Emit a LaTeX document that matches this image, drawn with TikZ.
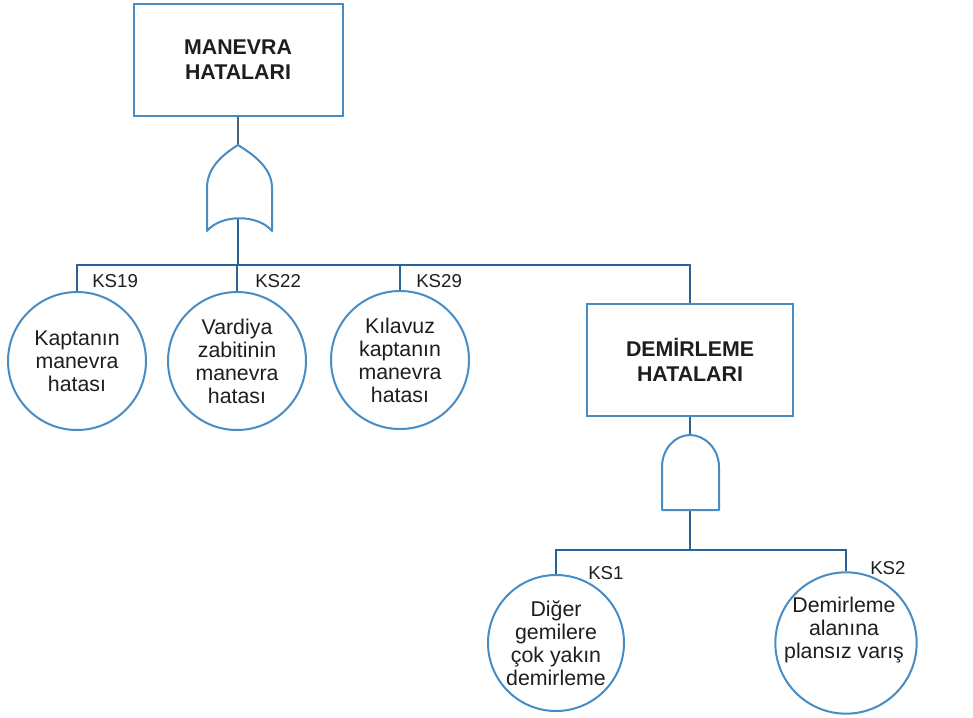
\documentclass[tikz,border=0pt]{standalone}
\usepackage{fontspec}
\setmainfont{Liberation Sans}
\definecolor{shapeblue}{RGB}{72,140,196}
\definecolor{wireblue}{RGB}{42,100,150}
\definecolor{linkgrey}{RGB}{78,98,118}
\definecolor{txt}{RGB}{30,30,30}
\begin{document}
\begin{tikzpicture}[x=0.75pt,y=-0.75pt,
  every node/.style={text=txt},
  eventbox/.style={draw=shapeblue, line width=1.5pt, fill=white, minimum width=156.75pt,
    minimum height=84pt, align=center, inner sep=0pt,
    font=\bfseries\fontsize{16}{18.75}\selectfont},
  basic/.style={draw=shapeblue, line width=1.5pt, fill=white, circle, minimum size=103.5pt,
    inner sep=0pt, align=center, font=\fontsize{16}{17.2}\selectfont},
  plaintext/.style={align=center, inner sep=0pt, font=\fontsize{16}{17.2}\selectfont},
  gate/.style={draw=shapeblue, line width=1.5pt, fill=white, line join=round},
  wire/.style={draw=wireblue, line width=2.2pt},
  link/.style={draw=linkgrey, line width=1.4pt},
  tag/.style={anchor=west, inner sep=0pt, font=\fontsize{14}{16}\selectfont}
]
\useasboundingbox (0,0) rectangle (973,717);
\fill[white] (0,0) rectangle (973,717);

% bus levels
\coordinate (bus) at (0,265);
\coordinate (bus2) at (0,550);

% top event
\node[eventbox] (manevra) at (238,60) {MANEVRA\\HATALARI};

% OR gate
\coordinate (orTop) at (238,145);
\coordinate (orBot) at (238,218);
\draw[link] (manevra.south) -- (orTop);
\draw[wire] (orBot) -- (orBot |- bus);
\draw[gate] (207,231) -- (207,188) .. controls (207,168) and (222,155) .. (orTop)
  .. controls (254,155) and (272,168) .. (272,188) -- (272,231)
  .. controls (258,214) and (221,214) .. cycle;

% basic events under the OR gate
\node[basic] (ks19) at (77,361) {Kaptanın\\manevra\\hatası};
\node[basic] (ks22) at (237,361) {Vardiya\\zabitinin\\manevra\\hatası};
\node[basic] (ks29) at (400,360) {Kılavuz\\kaptanın\\manevra\\hatası};

% intermediate event
\node[eventbox, minimum width=154.5pt] (dem) at (690,359.5) {DEMİRLEME\\HATALARI};

\draw[wire] (ks19.north) |- (dem.north |- bus) -- (dem.north);
\draw[wire] (ks22.north) -- (ks22.north |- bus);
\draw[wire] (ks29.north) -- (ks29.north |- bus);

\node[tag] (t19) at (92,281) {KS19};
\node[tag] (t22) at (255,281) {KS22};
\node[tag] (t29) at (416,281) {KS29};

% AND gate
\coordinate (andTop) at (690,435);
\coordinate (andBot) at (690,510);
\draw[wire, line width=1.8pt] (dem.south) -- (andTop);
\draw[wire] (andBot) -- (andBot |- bus2);
\draw[gate] (662,510) -- (662,467) .. controls (662,449) and (675,435) .. (andTop)
  .. controls (705,435) and (719,449) .. (719,467) -- (719,510) -- cycle;

% basic events under the AND gate
\node[basic, minimum size=102pt] (ks1) at (556,643) {Diğer\\gemilere\\çok yakın\\demirleme};
\node[basic, minimum size=106pt] (ks2) at (846,643) {};
\node[plaintext] (ks2text) at (844,630) {Demirleme\\alanına\\plansız varış};

\draw[wire] (ks1.north) |- (ks2.north |- bus2) -- (ks2.north);

\node[tag] (t1) at (588,573) {KS1};
\node[tag] (t2) at (870,568) {KS2};
\end{tikzpicture}
\end{document}
